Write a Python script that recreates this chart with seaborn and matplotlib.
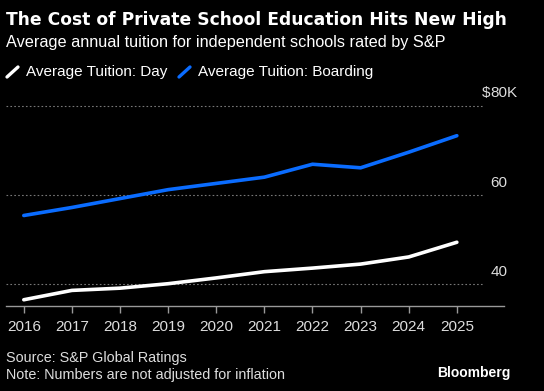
import seaborn as sns
import matplotlib.pyplot as plt
import pandas as pd
from matplotlib.lines import Line2D
from matplotlib.transforms import blended_transform_factory

# Average annual tuition, thousands of dollars
years = [2016, 2017, 2018, 2019, 2020, 2021, 2022, 2023, 2024, 2025]
day_tuition = [36.5, 38.6, 39.1, 40.1, 41.4, 42.8, 43.6, 44.5, 46.1, 49.4]
boarding_tuition = [55.4, 57.2, 59.2, 61.2, 62.6, 64.0, 66.9, 66.1, 69.6, 73.3]
y_ticks = [40, 60, 80]
y_tick_labels = ['40', '60', '80K']

df = pd.DataFrame({
    'Year': years * 2,
    'Tuition': day_tuition + boarding_tuition,
    'Series': ['Average Tuition: Day'] * len(years) + ['Average Tuition: Boarding'] * len(years),
})

BG = '#000000'
BLUE = '#0A6CFF'
sns.set_theme(style='dark', rc={'axes.facecolor': BG, 'figure.facecolor': BG})
plt.rcParams['font.family'] = ['Liberation Sans', 'DejaVu Sans']

fig = plt.figure(figsize=(5.44, 3.91), dpi=100)
ax = fig.add_axes([6 / 544, 1 - 306 / 391, (504 - 6) / 544, (306 - 88) / 391])

sns.lineplot(data=df, x='Year', y='Tuition', hue='Series',
             palette={'Average Tuition: Day': 'white', 'Average Tuition: Boarding': BLUE},
             linewidth=2.6, legend=False, ax=ax)

ax.set_xlim(2015.63, 2025.98)
ax.set_ylim(35.1, 84.0)
ax.set_xlabel('')
ax.set_ylabel('')
ax.set_xticks(years)
ax.set_xticklabels([str(y) for y in years], color='#dddddd', fontsize=11)
ax.tick_params(axis='x', length=5, width=1, color='#999999', pad=5, bottom=True)
ax.set_yticks([])
for s in ['top', 'right', 'left']:
    ax.spines[s].set_visible(False)
ax.spines['bottom'].set_color('#999999')
ax.spines['bottom'].set_linewidth(1)

# dotted gridlines and labels above them on the right
trans = blended_transform_factory(ax.transAxes, ax.transData)
for v, lab in zip(y_ticks, y_tick_labels):
    ax.plot([0, 0.957], [v, v], transform=trans, color='#777777',
            linestyle=(0, (1.5, 2)), linewidth=0.8, zorder=0)
    ax.text(0.973, v + 1.2, lab, transform=trans, color='#dddddd',
            fontsize=11, ha='left', va='bottom')
    if v == 80:
        ax.text(0.973, v + 1.2, '$', transform=trans, color='#dddddd',
                fontsize=11, ha='right', va='bottom')

# titles
fig.text(6 / 544, 1 - 20 / 391, 'The Cost of Private School Education Hits New High',
         color='white', fontsize=12.3, fontweight='bold', va='center', ha='left',
         family=['DejaVu Sans'])
fig.text(6 / 544, 1 - 42 / 391, 'Average annual tuition for independent schools rated by S&P',
         color='white', fontsize=11.7, va='center', ha='left')

# legend with slanted line markers
for x0, col, lab in [(7, 'white', 'Average Tuition: Day'), (179, BLUE, 'Average Tuition: Boarding')]:
    fig.add_artist(Line2D([x0 / 544, (x0 + 11) / 544], [1 - 77 / 391, 1 - 67 / 391],
                          color=col, linewidth=2.4, solid_capstyle='round'))
    fig.text((x0 + 19) / 544, 1 - 72 / 391, lab, color='white', fontsize=11,
             va='center', ha='left')

# footer
fig.text(6 / 544, 1 - 358 / 391, 'Source: S&P Global Ratings', color='#dddddd',
         fontsize=10.4, va='center', ha='left')
fig.text(6 / 544, 1 - 375 / 391, 'Note: Numbers are not adjusted for inflation', color='#dddddd',
         fontsize=10.4, va='center', ha='left')
fig.text(510 / 544, 1 - 373 / 391, 'Bloomberg', color='white', fontsize=10,
         fontweight='bold', va='center', ha='right')

fig.savefig('out.png', dpi=100, facecolor=BG)
